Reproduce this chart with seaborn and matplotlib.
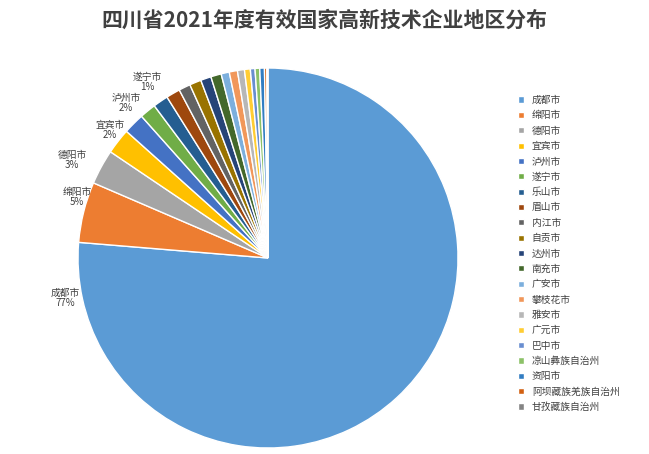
import matplotlib
matplotlib.use("Agg")
import matplotlib.pyplot as plt
import seaborn as sns

sns.set_theme(style="white")
plt.rcParams['font.family'] = ['Noto Sans CJK SC', 'DejaVu Sans']

cities = ["成都市","绵阳市","德阳市","宜宾市","泸州市","遂宁市","乐山市","眉山市","内江市","自贡市",
          "达州市","南充市","广安市","攀枝花市","雅安市","广元市","巴中市","凉山彝族自治州","资阳市",
          "阿坝藏族羌族自治州","甘孜藏族自治州"]
values = [77,5.2,3.0,2.2,1.8,1.4,1.3,1.2,1.0,1.0,0.9,0.9,0.7,0.7,0.6,0.5,0.4,0.4,0.4,0.2,0.1]
pct_labels = ["77%","5%","3%","2%","2%","1%"]
colors = ["#5B9BD5","#ED7D31","#A5A5A5","#FFC000","#4472C4","#70AD47","#255E91","#9E480E","#636363",
          "#997300","#264478","#43682B","#7CAFDD","#F1975A","#B7B7B7","#FFCD33","#698ED0","#8CC168",
          "#327DC2","#D26012","#848484"]
# label anchor positions (pixels in reference layout)
label_px = [(65, 298), (77, 197), (72, 160), (110, 130), (126, 103), (147, 82)]

fig = plt.figure(figsize=(6.49, 4.54), dpi=100)
cx, cy, R = 268, 258, 190
W, H = 649, 454
ax = fig.add_axes([(cx - R) / W, (H - cy - R) / H, 2 * R / W, 2 * R / H])
wedges, _ = ax.pie(values, colors=colors, startangle=90, counterclock=False,
                   wedgeprops=dict(edgecolor="white", linewidth=1))
ax.set_xlim(-1, 1)
ax.set_ylim(-1, 1)
ax.set_aspect("equal")

for c, p, (px, py) in zip(cities, pct_labels, label_px):
    ax.text((px - cx) / R, (cy - py) / R, f"{c}\n{p}", ha="center", va="center",
            fontsize=7, color="#404040", linespacing=1.1)

fig.text(0.5, 0.955, "四川省2021年度有效国家高新技术企业地区分布", ha="center", va="center",
         fontsize=15, color="#404040", fontweight="bold")

fig.legend(wedges, cities, loc="upper left", bbox_to_anchor=(0.785, 0.81), frameon=False,
           fontsize=7, handlelength=0.6, handleheight=0.6, labelspacing=0.55,
           labelcolor="#404040")
fig.savefig("out.png", dpi=100)
